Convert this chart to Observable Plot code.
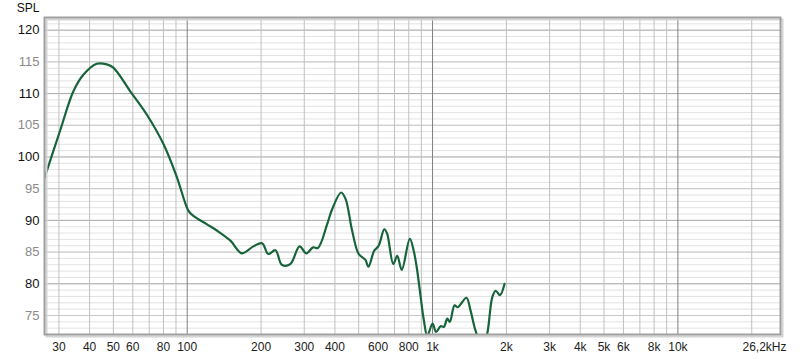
<!DOCTYPE html>
<html>
<head>
<meta charset="utf-8">
<script src="https://cdn.jsdelivr.net/npm/d3@7"></script>
<script src="https://cdn.jsdelivr.net/npm/@observablehq/plot@0.6"></script>
<style>
  html, body { margin: 0; padding: 0; background: #fff; }
  #chart svg { display: block; }
</style>
</head>
<body>
<div id="chart"></div>
<script>
// Frequency response (Hz) and SPL (dB)
const freq = [26.2, 30.3, 34.4, 37.8, 42.8, 47.0, 50.0, 58.5, 68.4, 80.1, 90.8, 101.2, 106, 120, 132, 150, 167, 186, 202, 214, 229, 243, 263, 287, 306, 326, 341, 372, 390, 424, 442, 470, 500, 532, 548, 578, 603, 636, 653, 692, 718, 749, 808, 838, 862, 888, 922, 952, 1000, 1034, 1079, 1112, 1149, 1176, 1230, 1268, 1374, 1428, 1497, 1560, 1620, 1667, 1752, 1808, 1883, 1966];
const spl  = [96.7, 104.1, 110.4, 113.0, 114.7, 114.6, 114.1, 110.4, 106.7, 102.0, 96.8, 91.5, 90.7, 89.4, 88.4, 86.8, 84.8, 85.9, 86.4, 84.7, 85.3, 83.0, 83.1, 85.9, 84.8, 85.75, 85.65, 89.4, 91.8, 94.4, 93.4, 88.4, 84.7, 83.8, 82.7, 85.2, 86.0, 88.6, 87.9, 83.1, 84.4, 82.2, 87.1, 85.2, 82.6, 78.9, 74.2, 71.8, 73.7, 72.4, 73.3, 73.2, 74.5, 74.0, 76.6, 76.3, 77.8, 75.8, 72.6, 71.0, 71.0, 72.0, 77.9, 78.9, 78.2, 80.0];

// Axis ticks
const xTickValues = [30, 40, 50, 60, 80, 100, 200, 300, 400, 600, 800, 1000, 2000, 3000, 4000, 5000, 6000, 8000, 10000];
const xTickLabels = ["30", "40", "50", "60", "80", "100", "200", "300", "400", "600", "800", "1k", "2k", "3k", "4k", "5k", "6k", "8k", "10k"];
const xEndTick = 26200;
const xEndLabel = "26,2kHz";
const xMinorGrid = [30, 40, 50, 60, 70, 80, 90, 200, 300, 400, 500, 600, 700, 800, 900, 2000, 3000, 4000, 5000, 6000, 7000, 8000, 9000, 20000];
const xDecadeGrid = [100, 1000, 10000];
const yMajorTicks = [80, 90, 100, 110, 120];
const yHalfTicks = [75, 85, 95, 105, 115];
const yMinorGrid = d3.range(72, 123, 1);
const yLabel = "SPL";

const data = freq.map((f, i) => ({f, db: spl[i]}));
const xLabels = xTickValues.map((v, i) => ({v, t: xTickLabels[i]}));
const font = "Liberation Sans, Arial, sans-serif";

const chart = Plot.plot({
  width: 800,
  height: 359,
  marginLeft: 44,
  marginRight: 20,
  marginTop: 17,
  marginBottom: 25,
  style: {fontFamily: font, fontSize: "12px", background: "#fff"},
  x: {type: "log", domain: [26.2, 26200], axis: null},
  y: {domain: [72, 122], axis: null},
  marks: [
    Plot.ruleY(yMinorGrid, {stroke: "#e2e2e2", strokeWidth: 1}),
    Plot.ruleY(yHalfTicks, {stroke: "#c8c8c8", strokeWidth: 1}),
    Plot.ruleY(yMajorTicks, {stroke: "#acacac", strokeWidth: 1}),
    Plot.ruleX(xMinorGrid, {stroke: "#c0c0c0", strokeWidth: 1}),
    Plot.ruleX(xDecadeGrid, {stroke: "#808080", strokeWidth: 1}),
    Plot.line(data, {x: "f", y: "db", stroke: "#17643a", strokeWidth: 2.2, curve: "catmull-rom", clip: "frame"}),
    Plot.frame({stroke: "#d4d4d4", strokeWidth: 2, dx: 2, dy: 2}),
    Plot.frame({stroke: "#a0a0a0", strokeWidth: 2}),
    Plot.text(xLabels, {x: "v", text: "t", frameAnchor: "bottom", dy: 13, lineAnchor: "middle", textAnchor: "middle", fill: "#222", fontSize: 12}),
    Plot.text([xEndLabel], {x: () => xEndTick, text: d => d, frameAnchor: "bottom", dy: 13, dx: 6, lineAnchor: "middle", textAnchor: "end", fill: "#222", fontSize: 12}),
    Plot.axisY(yMajorTicks, {tickSize: 0, tickPadding: 5, fill: "#111", fontSize: 13, label: null}),
    Plot.axisY(yHalfTicks, {tickSize: 0, tickPadding: 5, fill: "#8a8a8a", fontSize: 13, label: null}),
    Plot.text([yLabel], {frameAnchor: "top-left", text: d => d, dx: -16.5, dy: -9, textAnchor: "middle", lineAnchor: "middle", fill: "#111", fontSize: 12})
  ]
});
document.getElementById("chart").appendChild(chart);
</script>
</body>
</html>
